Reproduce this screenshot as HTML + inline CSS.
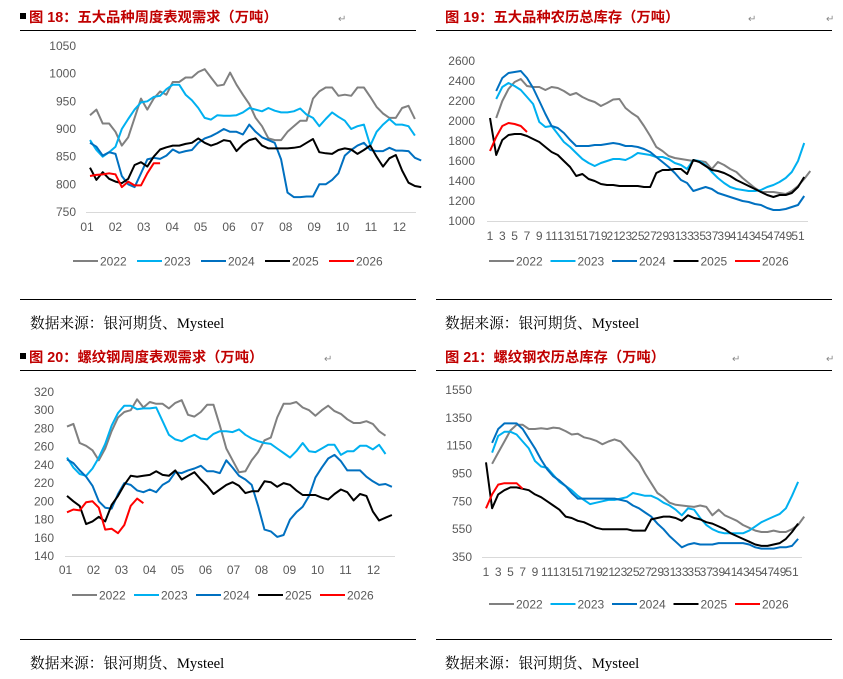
<!DOCTYPE html>
<html><head><meta charset="utf-8">
<style>
html,body{margin:0;padding:0;background:#fff;}
svg{display:block;}
.tk{font-family:"Liberation Sans","Noto Sans CJK SC",sans-serif;font-size:12px;fill:#595959;}
.tt{font-family:"Liberation Sans","Noto Sans CJK SC",sans-serif;font-size:14.3px;font-weight:bold;fill:#c00000;}
.src{font-family:"Liberation Serif","Noto Serif CJK SC",serif;font-size:14.7px;fill:#000;}
.rt{font-family:"Liberation Sans",sans-serif;font-size:10px;fill:#888;}
</style></head>
<body>
<svg id="root" width="843" height="679" viewBox="0 0 843 679" xmlns="http://www.w3.org/2000/svg">
  <g>
    <rect x="20" y="13" width="6" height="6" fill="#000"/>
    <text class="tt" x="29" y="22">图 18：五大品种周度表观需求（万吨）</text>
    <text class="rt" x="338" y="22">↵</text>
    <line x1="20" y1="30.5" x2="416" y2="30.5" stroke="#000" stroke-width="1"/>
    <line x1="20" y1="299.5" x2="416" y2="299.5" stroke="#000" stroke-width="1"/>
    <text class="src" x="30" y="328">数据来源：银河期货、Mysteel</text>
  </g>
  <g>
    <text class="tt" x="445" y="22">图 19：五大品种农历总库存（万吨）</text>
    <text class="rt" x="748" y="22">↵</text><text class="rt" x="826" y="22">↵</text>
    <line x1="436" y1="30.5" x2="832" y2="30.5" stroke="#000" stroke-width="1"/>
    <line x1="436" y1="299.5" x2="832" y2="299.5" stroke="#000" stroke-width="1"/>
    <text class="src" x="445" y="328">数据来源：银河期货、Mysteel</text>
  </g>
  <g>
    <rect x="20" y="353" width="6" height="6" fill="#000"/>
    <text class="tt" x="29" y="362">图 20：螺纹钢周度表观需求（万吨）</text>
    <text class="rt" x="324" y="362">↵</text>
    <line x1="20" y1="370.5" x2="416" y2="370.5" stroke="#000" stroke-width="1"/>
    <line x1="20" y1="639.5" x2="416" y2="639.5" stroke="#000" stroke-width="1"/>
    <text class="src" x="30" y="668">数据来源：银河期货、Mysteel</text>
  </g>
  <g>
    <text class="tt" x="445" y="362">图 21：螺纹钢农历总库存（万吨）</text>
    <text class="rt" x="732" y="362">↵</text><text class="rt" x="826" y="362">↵</text>
    <line x1="436" y1="370.5" x2="832" y2="370.5" stroke="#000" stroke-width="1"/>
    <line x1="436" y1="639.5" x2="832" y2="639.5" stroke="#000" stroke-width="1"/>
    <text class="src" x="445" y="668">数据来源：银河期货、Mysteel</text>
  </g>
</svg>
<script>
// ---------- data ----------
const years = ["2022","2023","2024","2025","2026"];
const colors = ["#808080","#00b0f0","#0070c0","#000000","#ff0000"];

const c18Ticks = [750,800,850,900,950,1000,1050];
const c18Months = ["01","02","03","04","05","06","07","08","09","10","11","12"];
const c18Start = [1,1,1,1,1];
const c18_2022 = [925,935,910,910,895,870,885,920,955,935,955,968,962,985,985,993,993,1003,1008,993,978,980,1002,980,962,945,920,905,883,880,880,895,905,915,915,955,968,975,975,960,962,960,975,975,958,940,928,920,920,938,942,918];
const c18_2023 = [880,862,850,858,868,900,918,935,948,950,958,960,972,980,980,962,952,938,920,917,925,924,924,925,930,938,935,932,938,933,930,930,932,937,926,920,905,918,930,922,915,900,905,908,870,895,908,918,908,908,905,888];
const c18_2024 = [875,868,852,858,855,815,800,795,820,845,848,846,852,863,857,860,862,875,883,887,893,900,895,895,890,908,895,885,880,875,845,785,777,777,778,778,800,800,808,820,852,862,870,875,862,860,860,866,861,861,860,848,843];
const c18_2025 = [830,808,822,810,805,802,810,835,840,832,850,863,867,870,870,873,875,883,875,870,874,880,878,860,872,880,883,870,865,865,865,865,866,868,875,882,858,856,855,862,865,863,855,862,870,850,832,847,853,825,803,797,795];
const c18_2026 = [815,817,818,820,818,795,805,798,798,820,838,838];

const c19Ticks = [1000,1200,1400,1600,1800,2000,2200,2400,2600];
const c19Weeks = ["1","3","5","7","9","11","13","15","17","19","21","23","25","27","29","31","33","35","37","39","41","43","45","47","49","51"];
const c19Start = [2,2,2,1,1];
const c19_2022 = [2030,2200,2320,2390,2420,2350,2340,2340,2310,2340,2330,2300,2260,2280,2240,2210,2190,2150,2180,2215,2220,2130,2080,2040,1950,1850,1740,1700,1650,1630,1620,1610,1600,1600,1590,1520,1590,1560,1520,1490,1430,1380,1330,1290,1290,1290,1280,1270,1300,1350,1420,1500];
const c19_2023 = [2220,2340,2380,2350,2310,2240,2170,1990,1940,1950,1870,1790,1740,1680,1620,1580,1550,1580,1600,1620,1620,1610,1640,1680,1670,1660,1640,1640,1620,1580,1560,1520,1610,1600,1560,1490,1430,1380,1340,1320,1310,1300,1300,1310,1340,1360,1390,1430,1490,1600,1780];
const c19_2024 = [2300,2430,2480,2490,2500,2430,2330,2200,2070,1950,1930,1880,1810,1750,1750,1750,1760,1760,1770,1780,1770,1750,1750,1740,1720,1690,1640,1590,1540,1480,1410,1380,1300,1320,1340,1320,1280,1260,1240,1220,1200,1190,1170,1160,1130,1110,1110,1120,1140,1160,1250];
const c19_2025 = [2030,1660,1810,1860,1870,1870,1850,1820,1790,1740,1690,1660,1600,1540,1450,1470,1420,1400,1370,1360,1360,1350,1350,1350,1350,1340,1340,1480,1510,1510,1520,1520,1470,1610,1590,1550,1510,1500,1480,1450,1410,1380,1350,1320,1290,1260,1240,1260,1260,1280,1340,1440];
const c19_2026 = [1700,1840,1950,1980,1970,1950,1890];

const c20Ticks = [140,160,180,200,220,240,260,280,300,320];
const c20Months = ["01","02","03","04","05","06","07","08","09","10","11","12"];
const c20Start = [1,1,1,1,1];
const c20_2022 = [282,285,264,261,256,245,258,277,292,298,300,312,303,309,307,307,302,308,311,295,293,298,306,306,283,258,245,232,233,245,254,267,270,292,307,307,309,303,300,294,300,305,299,296,290,286,286,288,285,277,272];
const c20_2023 = [248,237,230,228,236,248,263,283,297,305,305,301,302,302,303,288,273,268,266,270,273,269,268,274,277,277,276,279,273,269,266,264,263,258,253,248,255,264,255,254,258,262,262,251,255,255,261,261,257,262,252];
const c20_2024 = [246,242,234,227,217,200,193,192,208,220,218,212,210,213,210,218,222,232,231,234,236,239,233,233,231,245,237,228,224,218,195,169,167,161,163,180,188,194,206,226,237,247,251,244,234,234,234,227,222,218,219,216];
const c20_2025 = [206,200,195,175,178,183,178,196,206,218,228,227,228,229,233,229,228,234,224,228,232,224,217,208,213,218,221,217,209,211,211,222,221,216,220,218,212,207,207,207,204,202,208,213,210,201,208,206,189,179,182,185];
const c20_2026 = [188,191,190,199,200,193,169,170,165,174,195,203,198];

const c21Ticks = [350,550,750,950,1150,1350,1550];
const c21Weeks = ["1","3","5","7","9","11","13","15","17","19","21","23","25","27","29","31","33","35","37","39","41","43","45","47","49","51"];
const c21Start = [2,2,2,1,1];
const c21_2022 = [1020,1100,1180,1260,1300,1300,1270,1270,1275,1270,1280,1275,1255,1230,1235,1210,1200,1185,1160,1180,1195,1180,1130,1080,1030,950,880,810,780,740,725,720,715,710,720,710,650,690,650,630,610,580,560,540,530,530,540,530,530,550,580,640];
const c21_2023 = [1100,1220,1250,1250,1230,1180,1130,1040,1000,990,940,890,860,830,790,760,730,740,750,760,760,770,780,810,800,790,790,770,740,720,690,650,700,690,630,580,550,530,520,520,520,520,540,570,600,620,640,660,700,790,890];
const c21_2024 = [1170,1270,1310,1310,1310,1270,1200,1130,1050,980,930,900,860,810,770,770,770,770,770,770,770,760,750,720,700,670,640,590,550,500,460,420,440,450,440,440,440,450,450,450,450,450,440,420,410,410,410,420,420,430,480];
const c21_2025 = [1030,700,800,830,850,850,840,830,800,780,750,720,690,640,630,610,600,580,560,550,550,550,550,550,540,540,540,620,630,640,640,630,610,650,630,620,600,590,570,550,520,500,480,460,440,430,430,440,450,480,530,590];
const c21_2026 = [700,800,870,880,880,880,840];

// ---------- drawing ----------
const NS = "http://www.w3.org/2000/svg";
const root = document.getElementById("root");
function mk(tag, attrs, parent){
  const e = document.createElementNS(NS, tag);
  for (const k in attrs) e.setAttribute(k, attrs[k]);
  (parent||root).appendChild(e);
  return e;
}

function drawChart(cfg){
  const g = mk("g", {});
  
  
  const ymin = cfg.ticks[0], ymax = cfg.ticks[cfg.ticks.length-1];
  const yS = v => cfg.y0 + (v - ymin) / (ymax - ymin) * (cfg.y1 - cfg.y0);
  const xS = w => cfg.xw1 + (w - 1) * cfg.xstep;
  const base = mk("line", {x1:cfg.px0, x2:cfg.px1, y1:cfg.y0+0.5, y2:cfg.y0+0.5, stroke:"#d9d9d9", "stroke-width":1}, g);
  
  
  cfg.ticks.forEach(t => {
    const tx = mk("text", {x:cfg.ylx, y:yS(t)+4, "text-anchor":"end", class:"tk"}, g);
    tx.textContent = t;
    
    
  });
  cfg.xlabels.forEach((l, i) => {
    const x = cfg.xl0 + i * cfg.xlstep;
    const tx = mk("text", {x:x, y:cfg.xly, "text-anchor":"middle", class:"tk"}, g);
    tx.textContent = l;
    
    
  });
  cfg.series.forEach((s, i) => {
    const pts = s.map((v, j) => xS(cfg.start[i] + j).toFixed(1) + "," + yS(v).toFixed(1)).join(" ");
    const pl = mk("polyline", {points:pts, fill:"none", stroke:colors[i], "stroke-width":2, "stroke-linejoin":"round"}, g);
    
    
  });
  years.forEach((yname, i) => {
    const lx = cfg.lg0 + i * cfg.lgstep;
    const ln = mk("line", {x1:lx, x2:lx+25, y1:cfg.lgy, y2:cfg.lgy, stroke:colors[i], "stroke-width":2}, g);
    
    
    const tx = mk("text", {x:lx+27, y:cfg.lgy+4.5, class:"tk"}, g);
    tx.textContent = yname;
    
    
  });
}

drawChart({name:"chart18-demand-five", ticks:c18Ticks, y0:212, y1:46, ylx:76,
  px0:86, px1:416, xw1:90, xstep:6.37,
  xlabels:c18Months, xl0:87, xlstep:28.4, xly:231,
  start:c18Start, series:[c18_2022,c18_2023,c18_2024,c18_2025,c18_2026],
  lg0:73, lgstep:64, lgy:261});

drawChart({name:"chart19-inventory-five", ticks:c19Ticks, y0:221, y1:61, ylx:475,
  px0:487, px1:808, xw1:490, xstep:6.16,
  xlabels:c19Weeks, xl0:490, xlstep:12.32, xly:240,
  start:c19Start, series:[c19_2022,c19_2023,c19_2024,c19_2025,c19_2026],
  lg0:489, lgstep:61.5, lgy:261});

drawChart({name:"chart20-demand-rebar", ticks:c20Ticks, y0:556, y1:392, ylx:54,
  px0:65, px1:395, xw1:67, xstep:6.37,
  xlabels:c20Months, xl0:65.5, xlstep:28, xly:574,
  start:c20Start, series:[c20_2022,c20_2023,c20_2024,c20_2025,c20_2026],
  lg0:72, lgstep:62, lgy:595});

drawChart({name:"chart21-inventory-rebar", ticks:c21Ticks, y0:557, y1:390, ylx:472,
  px0:482, px1:802, xw1:486, xstep:6.12,
  xlabels:c21Weeks, xl0:486, xlstep:12.24, xly:576,
  start:c21Start, series:[c21_2022,c21_2023,c21_2024,c21_2025,c21_2026],
  lg0:489, lgstep:61.5, lgy:604});
</script>
</body></html>
